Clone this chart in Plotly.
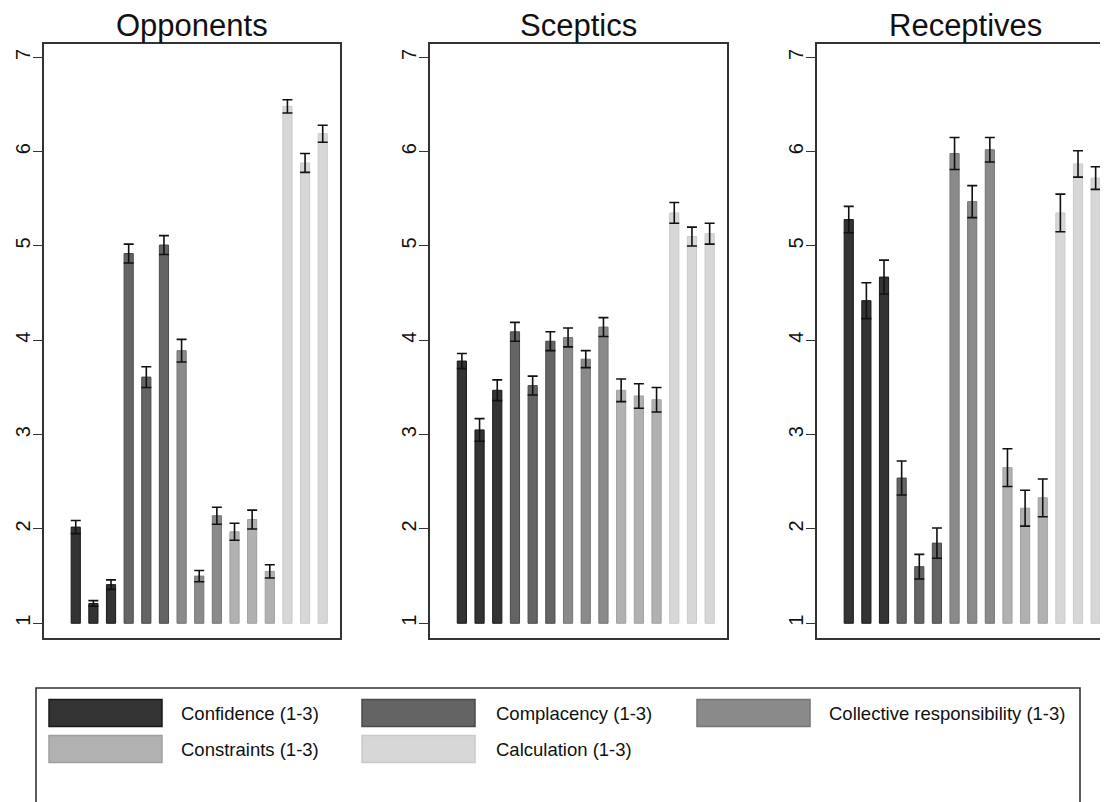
import plotly.graph_objects as go

# ── DATA ──────────────────────────────────────────────────────
panels = ["Opponents", "Sceptics", "Receptives"]
categories = ["Confidence (1-3)", "Complacency (1-3)", "Collective responsibility (1-3)",
              "Constraints (1-3)", "Calculation (1-3)"]
colors = ["#333333", "#646464", "#8a8a8a", "#b1b1b1", "#d7d7d7"]
edges = ["#1a1a1a", "#4a4a4a", "#767676", "#a0a0a0", "#cacaca"]

# 3 items per category, in category order
opponents_mean = [2.02, 1.21, 1.41, 4.92, 3.61, 5.01, 3.89, 1.50, 2.14,
                  1.97, 2.10, 1.55, 6.48, 5.88, 6.19]
opponents_err = [0.07, 0.03, 0.05, 0.10, 0.11, 0.10, 0.12, 0.06, 0.09,
                 0.09, 0.10, 0.07, 0.07, 0.10, 0.09]
sceptics_mean = [3.78, 3.05, 3.47, 4.09, 3.52, 3.99, 4.03, 3.80, 4.14,
                 3.47, 3.41, 3.37, 5.35, 5.10, 5.13]
sceptics_err = [0.08, 0.12, 0.11, 0.10, 0.10, 0.10, 0.10, 0.09, 0.10,
                0.12, 0.13, 0.13, 0.11, 0.10, 0.11]
receptives_mean = [5.28, 4.42, 4.67, 2.54, 1.60, 1.85, 5.98, 5.47, 6.02,
                   2.65, 2.22, 2.33, 5.35, 5.87, 5.72]
receptives_err = [0.14, 0.19, 0.18, 0.18, 0.13, 0.16, 0.17, 0.17, 0.13,
                  0.20, 0.19, 0.20, 0.20, 0.14, 0.12]

means = [opponents_mean, sceptics_mean, receptives_mean]
errs = [opponents_err, sceptics_err, receptives_err]

# page body has an 8px margin, so the figure starts at (8, 8) in the window
OFF = 8
W, H = 1108 - OFF, 802 - OFF


def px(xw):
    return (xw - OFF) / W


def py(yw):
    return 1 - (yw - OFF) / H


# panel frames in window pixels (left, right)
frames = [(44, 340), (430, 727), (817, 1108)]
top_px, bot_px = 44, 638
y_range = [0.844, 7.141]
x_ranges = [[-1.8, 14.98], [-1.8, 14.98], [-1.8, 14.7]]

fig = go.Figure()

for p in range(3):
    ax = "" if p == 0 else str(p + 1)
    for k, cat in enumerate(categories):
        xs = [3 * k + j for j in range(3)]
        vals = means[p][3 * k:3 * k + 3]
        fig.add_trace(go.Bar(
            x=xs, y=[v - 1 for v in vals], base=1,
            name=cat, showlegend=False,
            width=0.52,
            marker=dict(color=colors[k], line=dict(color=edges[k], width=1)),
            error_y=dict(type="data", array=errs[p][3 * k:3 * k + 3],
                         color="#111111", thickness=1.6, width=5),
            xaxis="x" + ax, yaxis="y" + ax,
        ))

layout = dict(
    width=W, height=H,
    paper_bgcolor="white", plot_bgcolor="white",
    margin=dict(l=0, r=0, t=0, b=0),
    font=dict(family="Liberation Sans, Arial, sans-serif", color="#111111"),
    barmode="overlay",
    showlegend=False,
)

ydom = [py(bot_px), py(top_px)]
for p in range(3):
    ax = "" if p == 0 else str(p + 1)
    l, r = frames[p]
    layout["xaxis" + ax] = dict(
        domain=[px(l), min(px(r), 1.0)], range=x_ranges[p],
        showline=True, linecolor="#333333", linewidth=1.6, mirror=True,
        showticklabels=False, ticks="", showgrid=False, zeroline=False,
        anchor="y" + ax,
    )
    layout["yaxis" + ax] = dict(
        domain=ydom, range=y_range,
        showline=True, linecolor="#333333", linewidth=1.6, mirror=(p < 2),
        tickvals=[1, 2, 3, 4, 5, 6, 7], ticks="outside", ticklen=9,
        tickwidth=1.4, tickcolor="#333333", tickangle=-90,
        ticklabelstandoff=-5,
        tickfont=dict(size=20, color="#111111"),
        showgrid=False, zeroline=False, anchor="x" + ax,
    )

fig.update_layout(**layout)

# panel titles
for p in range(3):
    l, r = frames[p]
    cx = (l + r) / 2 if p < 2 else l + 148
    fig.add_annotation(
        x=px(cx), y=py(25), xref="paper", yref="paper",
        text=panels[p], showarrow=False, xanchor="center", yanchor="middle",
        font=dict(size=31, color="#111111"),
    )

# ── LEGEND (drawn by hand, Stata style) ──────────────────────
leg_left, leg_right, leg_top = 36, 1080, 688
fig.add_shape(type="rect", xref="paper", yref="paper",
              x0=px(leg_left), x1=px(leg_right),
              y0=py(812), y1=py(leg_top),
              line=dict(color="#333333", width=1.6), fillcolor="white", layer="below")

col_x = [49, 362, 697]
text_x = [179, 494, 827]
row_y = [713, 749]
sw_w, sw_h = 113, 27
for k, cat in enumerate(categories):
    row, col = divmod(k, 3)
    x0 = col_x[col]
    yc = row_y[row]
    fig.add_shape(type="rect", xref="paper", yref="paper",
                  x0=px(x0), x1=px(x0 + sw_w),
                  y0=py(yc + sw_h / 2), y1=py(yc - sw_h / 2),
                  line=dict(color=edges[k], width=1.5), fillcolor=colors[k])
    fig.add_annotation(x=px(text_x[col]), y=py(yc), xref="paper", yref="paper",
                       text=cat, showarrow=False, xanchor="left", yanchor="middle",
                       font=dict(size=18.5, color="#111111"))

fig.write_html("out.html")
